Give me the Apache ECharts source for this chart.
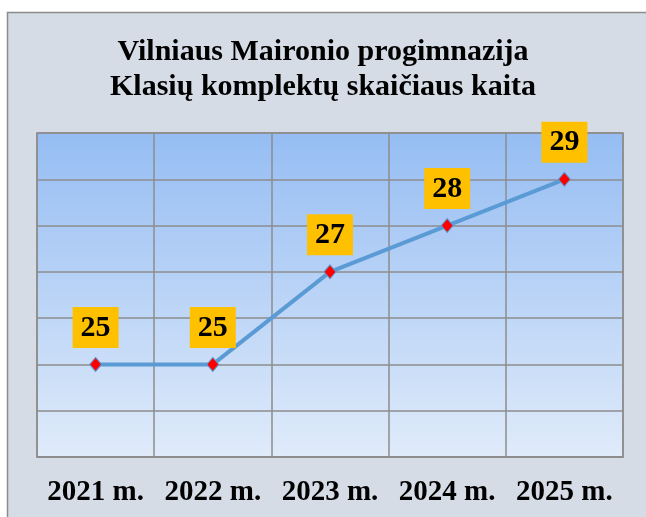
<!DOCTYPE html>
<html>
<head>
<meta charset="utf-8">
<script src="https://cdn.jsdelivr.net/npm/echarts@6/dist/echarts.min.js"></script>
<style>
  html, body { margin: 0; padding: 0; background: #ffffff; }
  #chart-container { width: 646px; height: 517px; }
</style>
</head>
<body>
<div id="chart-container"></div>
<script>
var years = ['2021 m.', '2022 m.', '2023 m.', '2024 m.', '2025 m.'];
var classCount = [25, 25, 27, 28, 29];
var titleLines = ['Vilniaus Maironio progimnazija', 'Klasių komplektų skaičiaus kaita'];

var dom = document.getElementById('chart-container');
var myChart = echarts.init(dom, null, { renderer: 'canvas' });

var serif = '"Liberation Serif", "Times New Roman", serif';

var option = {
  backgroundColor: '#ffffff',
  graphic: [
    {
      type: 'rect',
      z: -10,
      shape: { x: 7.5, y: 12.5, width: 660, height: 520 },
      style: { fill: '#d6dce6', stroke: '#8c8c8c', lineWidth: 1.5 }
    }
  ],
  title: {
    text: titleLines.join('\n'),
    left: 'center',
    top: 30,
    textStyle: {
      fontFamily: serif,
      fontSize: 30,
      fontWeight: 'bold',
      lineHeight: 35,
      color: '#000'
    }
  },
  grid: {
    left: 37,
    right: 23,
    top: 133,
    bottom: 60,
    show: true,
    borderColor: '#8c8c8c',
    borderWidth: 1.5,
    backgroundColor: new echarts.graphic.LinearGradient(0, 0, 0, 1, [
      { offset: 0, color: '#95bdf3' },
      { offset: 1, color: '#e0ebfa' }
    ])
  },
  xAxis: {
    type: 'category',
    data: years,
    boundaryGap: true,
    axisLine: { lineStyle: { color: '#8c8c8c', width: 1.5 } },
    axisTick: { show: false },
    splitLine: { show: true, interval: 0, lineStyle: { color: '#8c8c8c', width: 1.5 } },
    axisLabel: {
      interval: 0,
      margin: 21,
      fontFamily: serif,
      fontSize: 29,
      fontWeight: 'bold',
      color: '#000'
    }
  },
  yAxis: {
    type: 'value',
    min: 23,
    max: 30,
    interval: 1,
    axisLabel: { show: false },
    axisLine: { show: false },
    axisTick: { show: false },
    splitLine: { lineStyle: { color: '#8c8c8c', width: 1.5 } }
  },
  series: [
    {
      type: 'line',
      data: classCount,
      symbol: 'diamond',
      symbolSize: [12, 14],
      itemStyle: { color: '#ff0000', borderColor: '#5b9bd5', borderWidth: 1 },
      lineStyle: { color: '#5b9bd5', width: 4 },
      label: {
        show: true,
        position: 'top',
        distance: 9,
        backgroundColor: '#ffc000',
        padding: [6, 8, 5, 8],
        fontFamily: serif,
        fontSize: 30,
        lineHeight: 30,
        fontWeight: 'bold',
        color: '#000'
      }
    }
  ]
};

myChart.setOption(option);
window.addEventListener('resize', myChart.resize);
</script>
</body>
</html>
